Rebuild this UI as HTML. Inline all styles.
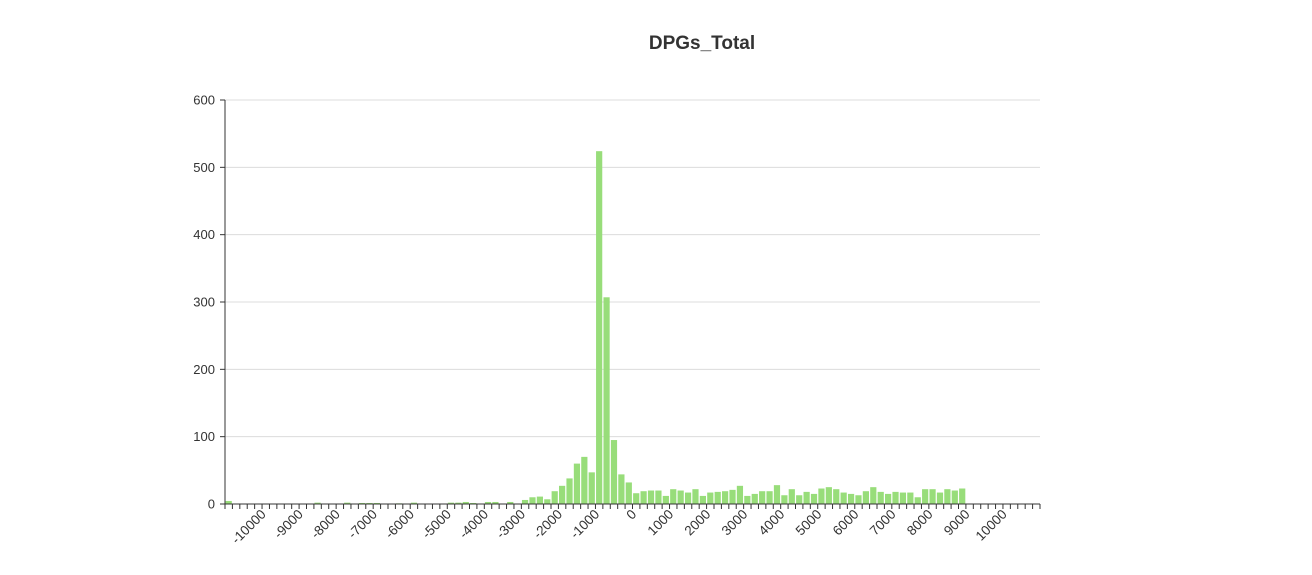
<!DOCTYPE html>
<html><head><meta charset="utf-8"><style>
html,body{margin:0;padding:0;background:#fff;}
svg{display:block;font-family:"Liberation Sans",sans-serif;}
</style></head><body>
<svg id="chart" width="1312" height="575" viewBox="0 0 1312 575" xmlns="http://www.w3.org/2000/svg">
<text x="702" y="49" text-anchor="middle" font-size="19" font-weight="bold" fill="#333">DPGs_Total</text>
<g id="grid"></g><g id="bars"></g><g id="axes"></g>
</svg>
<script>
const categoryStart = -11000;
const categoryStep = 200;
const values = [4.5,0,0,0,0,0,0,0,0,0,0,0,2,0,0,0,2,0,1.5,1.5,1.5,0,0,1,0,2,0,0,0,0,2,2,3,1.5,0,3,3,0,3,0,
6,10,11,7,19,27,38,60,70,47,524,307,95,44,32,16,19,20,20,12,
22,20,17,22,12,17,18,19,21,27,12,15,19,19,28,13,22,13,18,15,
23,25,22,17,15,13,19,25,18,15,18,17,17,10,22,22,17,22,20,23,
0,0,0,0,0,0,0,0,0,0];
const yTicks = [0,100,200,300,400,500,600];
const xLabelValues = [-10000,-9000,-8000,-7000,-6000,-5000,-4000,-3000,-2000,-1000,0,1000,2000,3000,4000,5000,6000,7000,8000,9000,10000];

const NS="http://www.w3.org/2000/svg";
const X0=225,X1=1040,Y0=504,Y1=100,YMAX=600;
const n=values.length, bw=(X1-X0)/n;
const xs=i=>X0+i*bw;
const ys=v=>Y0-(v/YMAX)*(Y0-Y1);
function mk(tag,attrs,parent){const e=document.createElementNS(NS,tag);for(const k in attrs)e.setAttribute(k,attrs[k]);parent.appendChild(e);return e;}
const grid=document.getElementById('grid'),bars=document.getElementById('bars'),axes=document.getElementById('axes');
yTicks.forEach(t=>{
  const y=ys(t);
  if(t>0){const g=mk('line',{x1:X0,x2:X1,y1:y,y2:y,stroke:'#dcdcdc','stroke-width':1},grid);
  
  }
  const tk=mk('line',{x1:X0-5,x2:X0,y1:y,y2:y,stroke:'#333'},axes);
  
  
  const tx=mk('text',{x:X0-10,y:y+4.5,'text-anchor':'end','font-size':13,fill:'#333'},axes);
  tx.textContent=t;
  
  
});
values.forEach((v,i)=>{
  if(v<=0)return;
  const r=mk('rect',{x:xs(i)+0.6,y:ys(v),width:bw-1.2,height:Y0-ys(v),fill:'#98dd7a'},bars);
  
  
});
const ya=mk('line',{x1:X0,x2:X0,y1:Y1,y2:Y0,stroke:'#333'},axes);


const xa=mk('line',{x1:X0,x2:X1,y1:Y0,y2:Y0,stroke:'#333'},axes);


for(let i=0;i<=n;i++){
  const x=xs(i);
  const tk=mk('line',{x1:x,x2:x,y1:Y0,y2:Y0+5,stroke:'#333'},axes);
  
  
}
xLabelValues.forEach(v=>{
  const i=(v-categoryStart)/categoryStep;
  const cx=xs(i)+bw/2+1;
  const cy=Y0+11;
  const t=mk('text',{x:cx,y:cy,'text-anchor':'end','font-size':13.5,fill:'#333',transform:'rotate(-45 '+cx+' '+cy+')'},axes);
  t.textContent=v;
  
  
});
</script>
</body></html>
